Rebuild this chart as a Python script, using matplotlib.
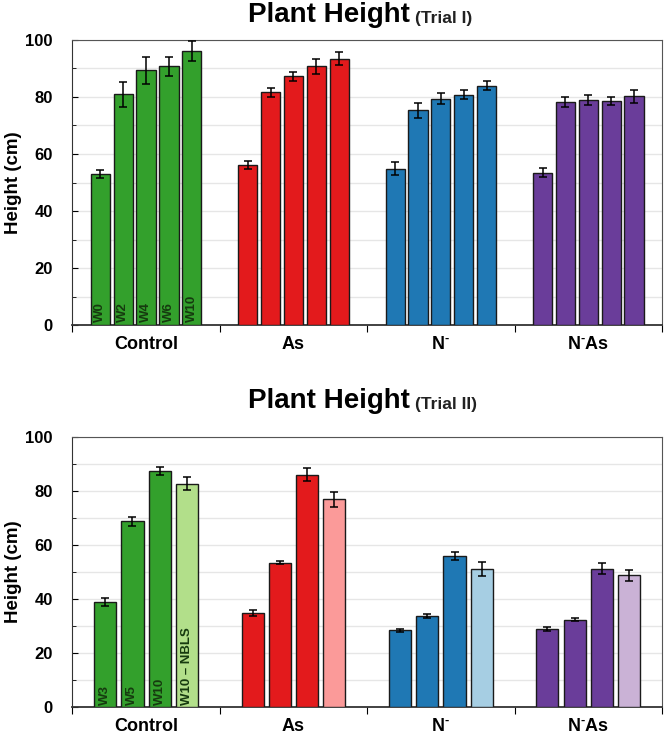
import numpy as np
import matplotlib
matplotlib.use("Agg")
import matplotlib.pyplot as plt
from matplotlib.ticker import MultipleLocator

plt.rcParams['font.family'] = ['Liberation Sans', 'DejaVu Sans']
plt.rcParams['font.weight'] = 'bold'
plt.rcParams['mathtext.fontset'] = 'custom'
plt.rcParams['mathtext.rm'] = 'Liberation Sans:bold'
plt.rcParams['mathtext.bf'] = 'Liberation Sans:bold'

groups = ["Control", "As", r"N$^{\text{-}}$", r"N$^{\text{-}}$As"]

# Trial I (5 weeks per treatment)
weeks1 = ["W0", "W2", "W4", "W6", "W10"]
h1 = [[53.0, 80.9, 89.3, 90.7, 96.0],
      [56.1, 81.6, 87.2, 90.7, 93.4],
      [54.9, 75.3, 79.4, 80.8, 84.0],
      [53.5, 78.2, 78.9, 78.6, 80.2]]
e1 = [[1.4, 4.4, 4.6, 3.2, 3.5],
      [1.5, 1.6, 1.7, 2.5, 2.3],
      [2.2, 2.6, 2.0, 1.5, 1.6],
      [1.6, 1.7, 1.8, 1.4, 2.2]]

# Trial II (4 bars per treatment, last = NBLS)
weeks2 = ["W3", "W5", "W10", "W10 \u2013 NBLS"]
h2 = [[38.8, 68.7, 87.4, 82.7],
      [34.8, 53.5, 86.0, 76.9],
      [28.4, 33.7, 56.0, 51.2],
      [28.8, 32.4, 51.2, 48.8]]
e2 = [[1.5, 1.7, 1.5, 2.5],
      [1.0, 0.6, 2.5, 2.7],
      [0.6, 0.8, 1.5, 2.6],
      [0.8, 0.7, 2.0, 2.0]]

dark = ["#33a02c", "#e31a1c", "#1f78b4", "#6a3d9a"]
light = ["#b2df8a", "#fb9a99", "#a6cee3", "#cab2d6"]

fig = plt.figure(figsize=(6.64, 7.39), dpi=100)
ax1 = fig.add_axes([0.109, 0.560, 0.888, 0.386])
ax2 = fig.add_axes([0.109, 0.043, 0.888, 0.366])


def draw(ax, heights, errs, labels, pitch, width, light_last):
    n = len(labels)
    offs = (np.arange(n) - (n - 1) / 2) * pitch
    for g in range(len(groups)):
        for i in range(n):
            c = dark[g]
            if light_last and i == n - 1:
                c = light[g]
            x = g + 0.5 + offs[i]
            ax.bar(x, heights[g][i], width=width, color=c, edgecolor="#1a1a1a",
                   linewidth=1.0, zorder=3)
            ax.errorbar(x, heights[g][i], yerr=errs[g][i], color="black",
                        capsize=3, elinewidth=1.1, capthick=1.1, zorder=4)
            if g == 0:
                ax.text(x, 1.0, labels[i], rotation=90, ha="center", va="bottom",
                        fontsize=9.5, color="#163a0f", fontweight="bold", zorder=5)
    ax.set_xlim(0, 4)
    ax.set_ylim(0, 100)
    ax.yaxis.set_major_locator(MultipleLocator(20))
    ax.yaxis.set_minor_locator(MultipleLocator(10))
    ax.grid(axis="y", which="both", color="#e6e6e6", linewidth=1.0, zorder=0)
    ax.set_xticks([0, 1, 2, 3, 4])
    ax.set_xticklabels([])
    ax.set_xticks([0.5, 1.5, 2.5, 3.5], minor=True)
    ax.set_xticklabels(groups, minor=True, fontsize=13, fontweight="bold")
    ax.tick_params(axis="x", which="minor", length=0, pad=8)
    ax.tick_params(axis="x", which="major", length=5, direction="out")
    ax.tick_params(axis="y", which="major", labelsize=12, length=4,
                   direction="in", pad=14)
    ax.tick_params(axis="y", which="minor", length=3, direction="in")
    for lab in ax.get_yticklabels():
        lab.set_fontweight("bold")
    ax.spines["top"].set_color("#555555")
    ax.spines["right"].set_color("#555555")
    ax.spines["left"].set_color("#333333")
    ax.spines["bottom"].set_color("#333333")
    ax.spines["bottom"].set_linewidth(1.3)
    ax.set_ylabel("Height (cm)", fontsize=13.5, fontweight="bold")
    ax.yaxis.set_label_coords(-0.085, 0.5)


draw(ax1, h1, e1, weeks1, 0.155, 0.13, False)
draw(ax2, h2, e2, weeks2, 0.185, 0.15, True)

for y in (1 - 15 / 739, 1 - 401 / 739):
    fig.text(410 / 664, y, "Plant Height", ha="right", va="center",
             fontsize=20, fontweight="bold")
trial = ["(Trial I)", "(Trial II)"]
for y, t in zip((1 - 18 / 739, 1 - 404 / 739), trial):
    fig.text(415 / 664, y, t, ha="left", va="center", fontsize=12.5,
             fontweight="bold", color="#222222")

fig.savefig("out.png", dpi=100)
